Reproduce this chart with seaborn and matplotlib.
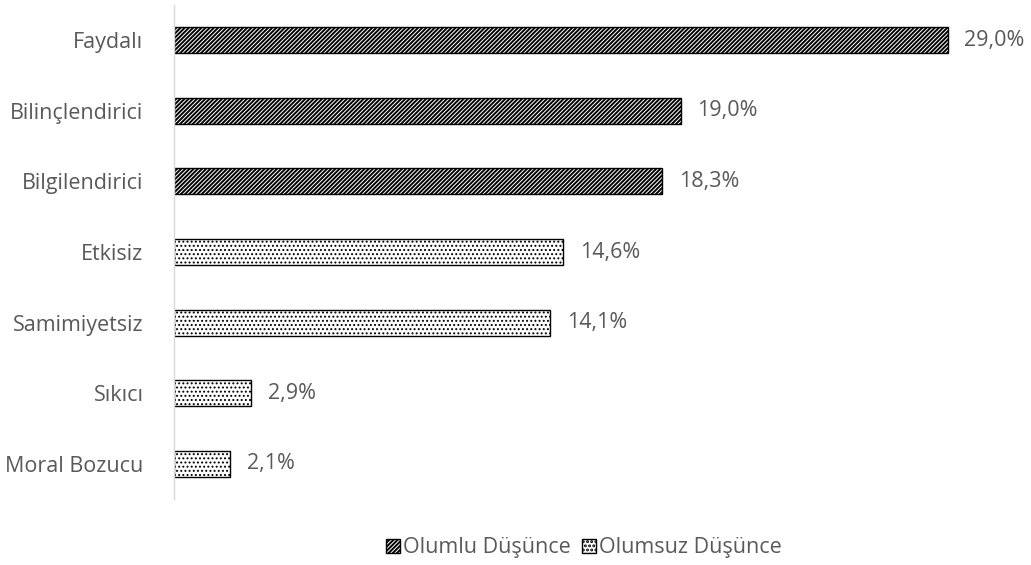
import matplotlib
matplotlib.use("Agg")
import matplotlib.pyplot as plt
import seaborn as sns
import pandas as pd
from matplotlib.patches import Patch

categories = ["Faydalı", "Bilinçlendirici", "Bilgilendirici", "Etkisiz", "Samimiyetsiz", "Sıkıcı", "Moral Bozucu"]
values = [29.0, 19.0, 18.3, 14.6, 14.1, 2.9, 2.1]
groups = ["Olumlu Düşünce", "Olumlu Düşünce", "Olumlu Düşünce",
          "Olumsuz Düşünce", "Olumsuz Düşünce", "Olumsuz Düşünce", "Olumsuz Düşünce"]
group_names = ["Olumlu Düşünce", "Olumsuz Düşünce"]
hatches = {"Olumlu Düşünce": "////////", "Olumsuz Düşünce": "...."}
hatch_lw = {"Olumlu Düşünce": 1.4, "Olumsuz Düşünce": 0.9}

df = pd.DataFrame({"cat": categories, "val": values, "grp": groups})

sns.set_theme(style="white")
plt.rcParams['font.family'] = ['Open Sans', 'DejaVu Sans']
plt.rcParams['hatch.linewidth'] = 1.4
txt = "#595959"
fs = 15.5

fig = plt.figure(figsize=(10.31, 5.65), dpi=100)
ax = fig.add_axes([174/1031, 1 - 499/565, (1001-174)/1031, (499-5)/565])

sns.barplot(data=df, x="val", y="cat", hue="grp", hue_order=group_names,
            dodge=False, width=0.37, palette=["white", "white"],
            edgecolor="black", linewidth=1.0, legend=False, ax=ax)

def style_patch(p, g):
    p.set_hatch(hatches[g])
    if hasattr(p, "set_hatch_linewidth"):
        p.set_hatch_linewidth(hatch_lw[g])

for p in ax.patches:
    yc = p.get_y() + p.get_height() / 2
    idx = int(round(yc))
    if 0 <= idx < len(groups) and p.get_width() > 0:
        style_patch(p, groups[idx])

for i, v in enumerate(values):
    ax.text(v + 0.62, i, f"{v:.1f}%".replace(".", ","), va="center", ha="left",
            fontsize=fs, color=txt)

ax.set_xlim(0, 31)
ax.set_ylim(6.5, -0.5)
ax.set_xlabel("")
ax.set_ylabel("")
ax.set_xticks([])
ax.tick_params(axis="y", length=0, pad=22, labelsize=fs, labelcolor=txt)
for s in ["top", "right", "bottom"]:
    ax.spines[s].set_visible(False)
ax.spines["left"].set_color("#d9d9d9")
ax.spines["left"].set_linewidth(1.0)

handles = []
for g in group_names:
    h = Patch(facecolor="white", edgecolor="black", label=g)
    style_patch(h, g)
    handles.append(h)
fig.legend(handles=handles, loc="center", bbox_to_anchor=(584/1031, 1 - 548/565), ncol=2,
           frameon=False, fontsize=fs, labelcolor=txt, handlelength=0.65, handleheight=0.65,
           handletextpad=0.15, columnspacing=0.5)

fig.savefig("out.png", dpi=100, facecolor="white")
